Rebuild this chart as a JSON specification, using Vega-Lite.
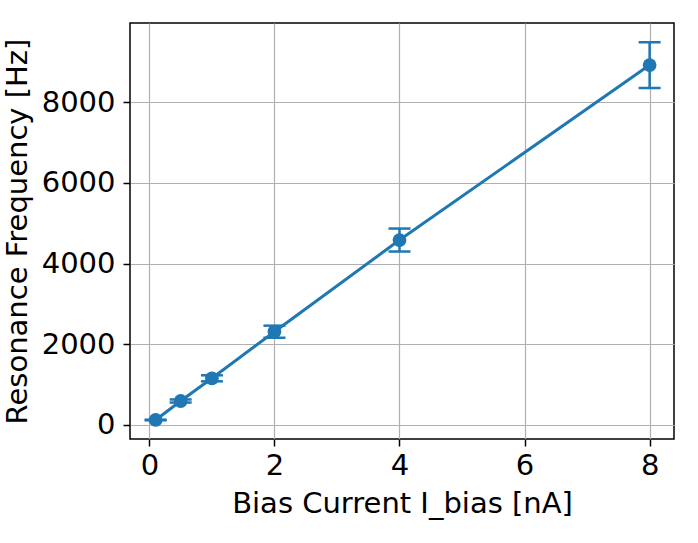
{
  "$schema": "https://vega.github.io/schema/vega-lite/v6.json",
  "autosize": "none",
  "width": 544,
  "height": 416,
  "padding": {"left": 130, "top": 23, "right": 24, "bottom": 104},
  "background": "white",
  "config": {
    "font": "DejaVu Sans",
    "view": {"stroke": "black", "strokeWidth": 1.5},
    "axis": {
      "labelFont": "DejaVu Sans",
      "titleFont": "DejaVu Sans",
      "labelFontSize": 29,
      "titleFontSize": 29,
      "labelColor": "black",
      "titleColor": "black",
      "titleFontWeight": "normal",
      "domain": false,
      "tickColor": "black",
      "tickWidth": 1.5,
      "tickSize": 7,
      "gridColor": "#b0b0b0",
      "gridWidth": 1.2,
      "gridOpacity": 1
    }
  },
  "data": {
    "values": [
      {"current": 0.1, "freq": 117, "lo": 109, "hi": 125},
      {"current": 0.5, "freq": 588, "lo": 550, "hi": 626},
      {"current": 1, "freq": 1151, "lo": 1076, "hi": 1226},
      {"current": 2, "freq": 2308, "lo": 2158, "hi": 2458},
      {"current": 4, "freq": 4583, "lo": 4298, "hi": 4868},
      {"current": 8, "freq": 8925, "lo": 8355, "hi": 9495}
    ]
  },
  "encoding": {
    "x": {
      "field": "current",
      "type": "quantitative",
      "scale": {"domain": [-0.31, 8.39], "nice": false, "zero": false},
      "axis": {"values": [0, 2, 4, 6, 8], "format": "d", "title": "Bias Current I_bias [nA]", "labelPadding": 5, "titlePadding": 9}
    }
  },
  "layer": [
    {
      "mark": {"type": "rule", "color": "#1f77b4", "strokeWidth": 2.5},
      "encoding": {
        "y": {
          "field": "lo",
          "type": "quantitative",
          "scale": {"domain": [-355, 9970], "nice": false, "zero": false},
          "axis": {"values": [0, 2000, 4000, 6000, 8000], "format": "d", "title": "Resonance Frequency [Hz]", "labelPadding": 8, "titlePadding": 9}
        },
        "y2": {"field": "hi"}
      }
    },
    {
      "mark": {"type": "tick", "orient": "horizontal", "color": "#1f77b4", "size": 22, "thickness": 2.5, "opacity": 1},
      "encoding": {"y": {"field": "lo", "type": "quantitative"}}
    },
    {
      "mark": {"type": "tick", "orient": "horizontal", "color": "#1f77b4", "size": 22, "thickness": 2.5, "opacity": 1},
      "encoding": {"y": {"field": "hi", "type": "quantitative"}}
    },
    {
      "mark": {"type": "line", "color": "#1f77b4", "strokeWidth": 3},
      "encoding": {"y": {"field": "freq", "type": "quantitative"}}
    },
    {
      "mark": {"type": "point", "filled": true, "color": "#1f77b4", "size": 190, "opacity": 1},
      "encoding": {"y": {"field": "freq", "type": "quantitative"}}
    }
  ]
}
